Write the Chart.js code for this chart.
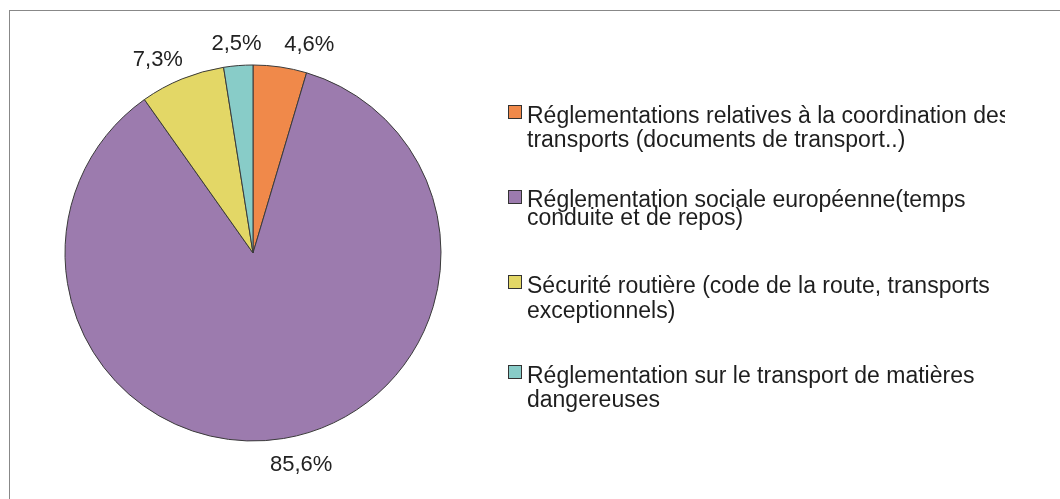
<!DOCTYPE html>
<html>
<head>
<meta charset="utf-8">
<script src="https://cdn.jsdelivr.net/npm/chart.js@4.4.0/dist/chart.umd.min.js"></script>
<style>
    body { margin: 0; background: #fff; font-family: 'Liberation Sans', Arial, sans-serif; }
    #frame { position: absolute; left: 9px; top: 10px; width: 1060px; height: 500px; border-left: 1px solid #888; border-top: 1px solid #888; }
    #pie-wrap { position: absolute; left: 0; top: 0; width: 506px; height: 499px; }
    #legend { position: absolute; left: 500px; top: 0; width: 505px; height: 499px; overflow: hidden; color: #1e1e1e; font-size: 23px; }
    .item { position: absolute; left: 27px; white-space: nowrap; }
    .box { position: absolute; left: -19px; width: 12px; height: 12px; border: 1px solid #333; }
</style>
</head>
<body>
<div id="frame"></div>
<div id="pie-wrap"><canvas id="pie"></canvas></div>
<div id="legend"></div>
<script>
const categories = [
    ['Réglementations relatives à la coordination des', 'transports (documents de transport..)'],
    ['Réglementation sociale européenne(temps', 'conduite et de repos)'],
    ['Sécurité routière (code de la route, transports', 'exceptionnels)'],
    ['Réglementation sur le transport de matières', 'dangereuses']
];
const shares = [4.6, 85.6, 7.3, 2.5];
const valueLabels = ['4,6%', '85,6%', '7,3%', '2,5%'];
const colors = ['#f0894a', '#9c7bae', '#e3d766', '#88ccc8'];

// legend layout: baseline of first line, line height
const legendBaselines = [122.5, 207, 293, 383];
const legendLineHeights = [24, 18, 25, 24];

const legend = document.getElementById('legend');
categories.forEach((lines, i) => {
    const lh = legendLineHeights[i];
    const baseline = (lh - 25.7) / 2 + 20.8; // baseline inside first line box (23px Liberation Sans)
    const div = document.createElement('div');
    div.className = 'item';
    div.style.top = (legendBaselines[i] - baseline) + 'px';
    div.style.lineHeight = lh + 'px';
    div.innerHTML = lines.join('<br>');
    const box = document.createElement('span');
    box.className = 'box';
    box.style.top = (baseline - 17.5) + 'px';
    box.style.background = colors[i];
    div.appendChild(box);
    legend.appendChild(div);
});

// percent labels outside the slices
const outsideLabels = {
    id: 'outsideLabels',
    afterDatasetsDraw(chart, args, opts) {
        const ctx = chart.ctx;
        const meta = chart.getDatasetMeta(0);
        ctx.save();
        ctx.font = '22px "Liberation Sans", Arial, sans-serif';
        ctx.fillStyle = '#222';
        ctx.textAlign = 'center';
        ctx.textBaseline = 'middle';
        meta.data.forEach((arc, i) => {
            const p = arc.getProps(['x', 'y', 'startAngle', 'endAngle', 'outerRadius'], true);
            const mid = (p.startAngle + p.endAngle) / 2;
            const r = p.outerRadius + opts.offset;
            const nudge = opts.nudges[i];
            const x = p.x + Math.cos(mid) * r + nudge[0];
            const y = p.y + Math.sin(mid) * r + nudge[1];
            ctx.fillText(valueLabels[i], x, y);
        });
        ctx.restore();
    }
};

new Chart(document.getElementById('pie'), {
    type: 'pie',
    data: {
        labels: categories,
        datasets: [{
            data: shares,
            backgroundColor: colors,
            borderColor: '#3a3a3a',
            borderWidth: 1,
            radius: 188
        }]
    },
    options: {
        responsive: true,
        maintainAspectRatio: false,
        animation: false,
        layout: { padding: { top: 7 } },
        plugins: {
            legend: { display: false },
            tooltip: { enabled: false },
            outsideLabels: { offset: 22, nudges: [[26, 0], [14, 5], [-16, 1.5], [0, 0]] }
        }
    },
    plugins: [outsideLabels]
});
</script>
</body>
</html>
